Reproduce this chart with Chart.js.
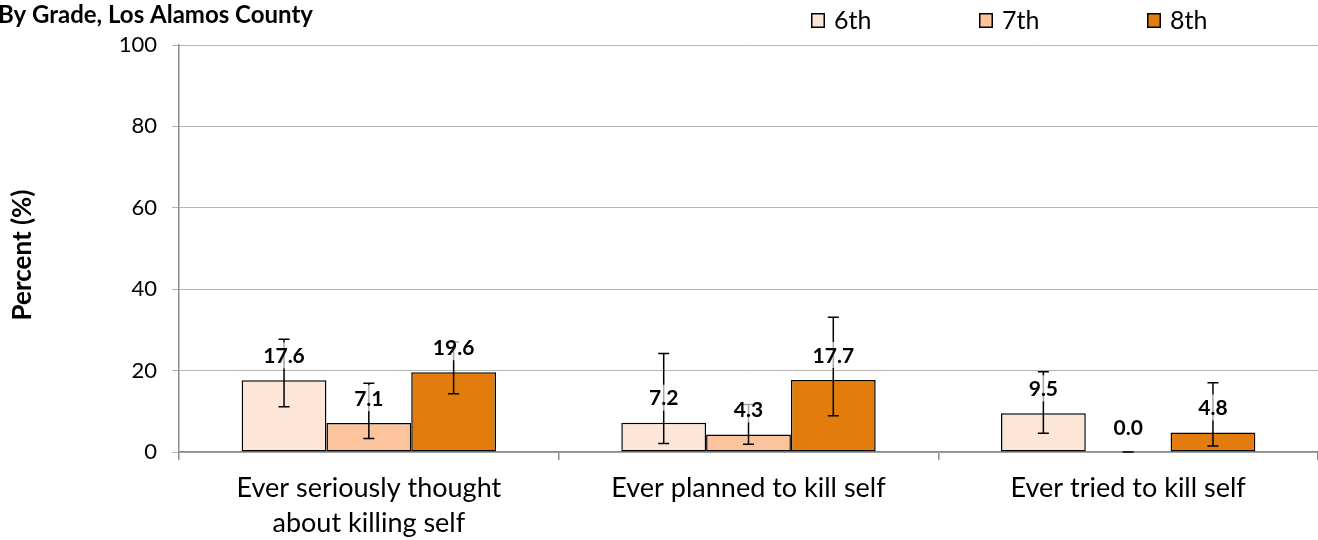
<!DOCTYPE html>
<html>
<head>
<meta charset="utf-8">
<script src="https://cdn.jsdelivr.net/npm/chart.js@4.4.1/dist/chart.umd.min.js"></script>
<style>
html,body{margin:0;padding:0;background:#fff;}
#wrap{width:1318px;height:540px;position:relative;}
</style>
</head>
<body>
<div id="wrap"><canvas id="c" width="1318" height="540"></canvas></div>
<script>
const titleText = "By Grade, Los Alamos County";
const yAxisTitle = "Percent (%)";
const categories = [["Ever seriously thought", "about killing self"], "Ever planned to kill self", "Ever tried to kill self"];
const seriesNames = ["6th", "7th", "8th"];
const sixth = [17.6, 7.2, 9.5];
const seventh = [7.1, 4.3, 0.0];
const eighth = [19.6, 17.7, 4.8];
const sixthLow = [11.1, 2.1, 4.6];
const sixthHigh = [27.7, 24.2, 19.7];
const seventhLow = [3.3, 1.9, 0.0];
const seventhHigh = [16.9, 11.7, 0.0];
const eighthLow = [14.3, 8.9, 1.5];
const eighthHigh = [27.0, 33.1, 17.0];
const yTicks = [0, 20, 40, 60, 80, 100];

const colors = ["#FDE5D8", "#FCC49C", "#E27C0C"];
const FONT = "Lato, 'Open Sans', sans-serif";

const errLows = [sixthLow, seventhLow, eighthLow];
const errHighs = [sixthHigh, seventhHigh, eighthHigh];

const errorBarPlugin = {
  id: 'errbars',
  afterDatasetsDraw(chart) {
    const ctx = chart.ctx;
    const y = chart.scales.y;
    ctx.save();
    chart.data.datasets.forEach((ds, di) => {
      const meta = chart.getDatasetMeta(di);
      meta.data.forEach((bar, i) => {
        const x = bar.x;
        const yl = y.getPixelForValue(errLows[di][i]);
        const yh = y.getPixelForValue(errHighs[di][i]);
        ctx.strokeStyle = '#000';
        ctx.lineWidth = 1.5;
        ctx.beginPath();
        ctx.moveTo(x, yl); ctx.lineTo(x, yh);
        ctx.moveTo(x - 5.5, yl); ctx.lineTo(x + 5.5, yl);
        ctx.moveTo(x - 5.5, yh); ctx.lineTo(x + 5.5, yh);
        ctx.stroke();
      });
    });
    ctx.font = "bold 21px " + FONT;
    ctx.textAlign = 'center';
    ctx.textBaseline = 'middle';
    chart.data.datasets.forEach((ds, di) => {
      const meta = chart.getDatasetMeta(di);
      meta.data.forEach((bar, i) => {
        const v = ds.data[i];
        const txt = v.toFixed(1);
        const cy = y.getPixelForValue(v) - 25;
        const w = ctx.measureText(txt).width;
        ctx.fillStyle = 'rgba(255,255,255,0.65)';
        ctx.fillRect(bar.x - w / 2 - 4, cy - 13, w + 8, 26);
        ctx.fillStyle = '#000';
        ctx.fillText(txt, bar.x, cy + 1);
      });
    });
    ctx.restore();
  }
};

const decorPlugin = {
  id: 'decor',
  afterDraw(chart) {
    const ctx = chart.ctx;
    ctx.save();
    ctx.font = "bold 24px " + FONT;
    ctx.fillStyle = '#000';
    ctx.textAlign = 'right';
    ctx.textBaseline = 'alphabetic';
    ctx.fillText(titleText, 313, 23);
    ctx.save();
    ctx.translate(23, 255);
    ctx.rotate(-Math.PI / 2);
    ctx.font = "bold 26px " + FONT;
    ctx.textAlign = 'center';
    ctx.textBaseline = 'middle';
    ctx.fillText(yAxisTitle, 0, 0);
    ctx.restore();
    const lx = [811, 979, 1147];
    ctx.font = "25px " + FONT;
    ctx.textAlign = 'left';
    ctx.textBaseline = 'alphabetic';
    seriesNames.forEach((n, i) => {
      ctx.fillStyle = colors[i];
      ctx.fillRect(lx[i], 13, 14, 15);
      ctx.strokeStyle = '#000';
      ctx.lineWidth = 1.5;
      ctx.strokeRect(lx[i] + 0.75, 13.75, 12.5, 13.5);
      ctx.fillStyle = '#000';
      ctx.fillText(n, lx[i] + 23, 29);
    });
    ctx.restore();
  }
};

const datasets = [sixth, seventh, eighth].map((d, i) => ({
  label: seriesNames[i],
  data: d,
  backgroundColor: colors[i],
  borderColor: '#000',
  borderWidth: 1.5,
  borderSkipped: false,
  categoryPercentage: 0.67,
  barPercentage: 1.0
}));

new Chart(document.getElementById('c'), {
  type: 'bar',
  data: { labels: categories, datasets },
  options: {
    responsive: false,
    animation: false,
    devicePixelRatio: 1,
    layout: { padding: { top: 45, right: 0, left: 0, bottom: 0 } },
    plugins: { legend: { display: false }, title: { display: false }, tooltip: { enabled: false } },
    scales: {
      x: {
        grid: { display: true, offset: true, drawOnChartArea: false, drawTicks: true, tickLength: 8, color: '#8c8c8c', lineWidth: 1.5 },
        border: { display: true, color: '#8c8c8c', width: 1.5 },
        ticks: { color: '#000', font: { family: FONT, size: 27, lineHeight: 1.28 }, padding: 11, maxRotation: 0, autoSkip: false },
        afterFit(s) { s.height = 88; }
      },
      y: {
        min: 0, max: 100,
        afterBuildTicks(s) { s.ticks = yTicks.map(v => ({ value: v })); },
        grid: { color: '#b4b4b4', lineWidth: 1, tickLength: 7, drawTicks: true },
        border: { display: true, color: '#8c8c8c', width: 1.5 },
        ticks: { color: '#000', font: { family: FONT, size: 22 }, padding: 15 },
        afterFit(s) { s.width = 179; }
      }
    }
  },
  plugins: [errorBarPlugin, decorPlugin]
});
</script>
</body>
</html>
